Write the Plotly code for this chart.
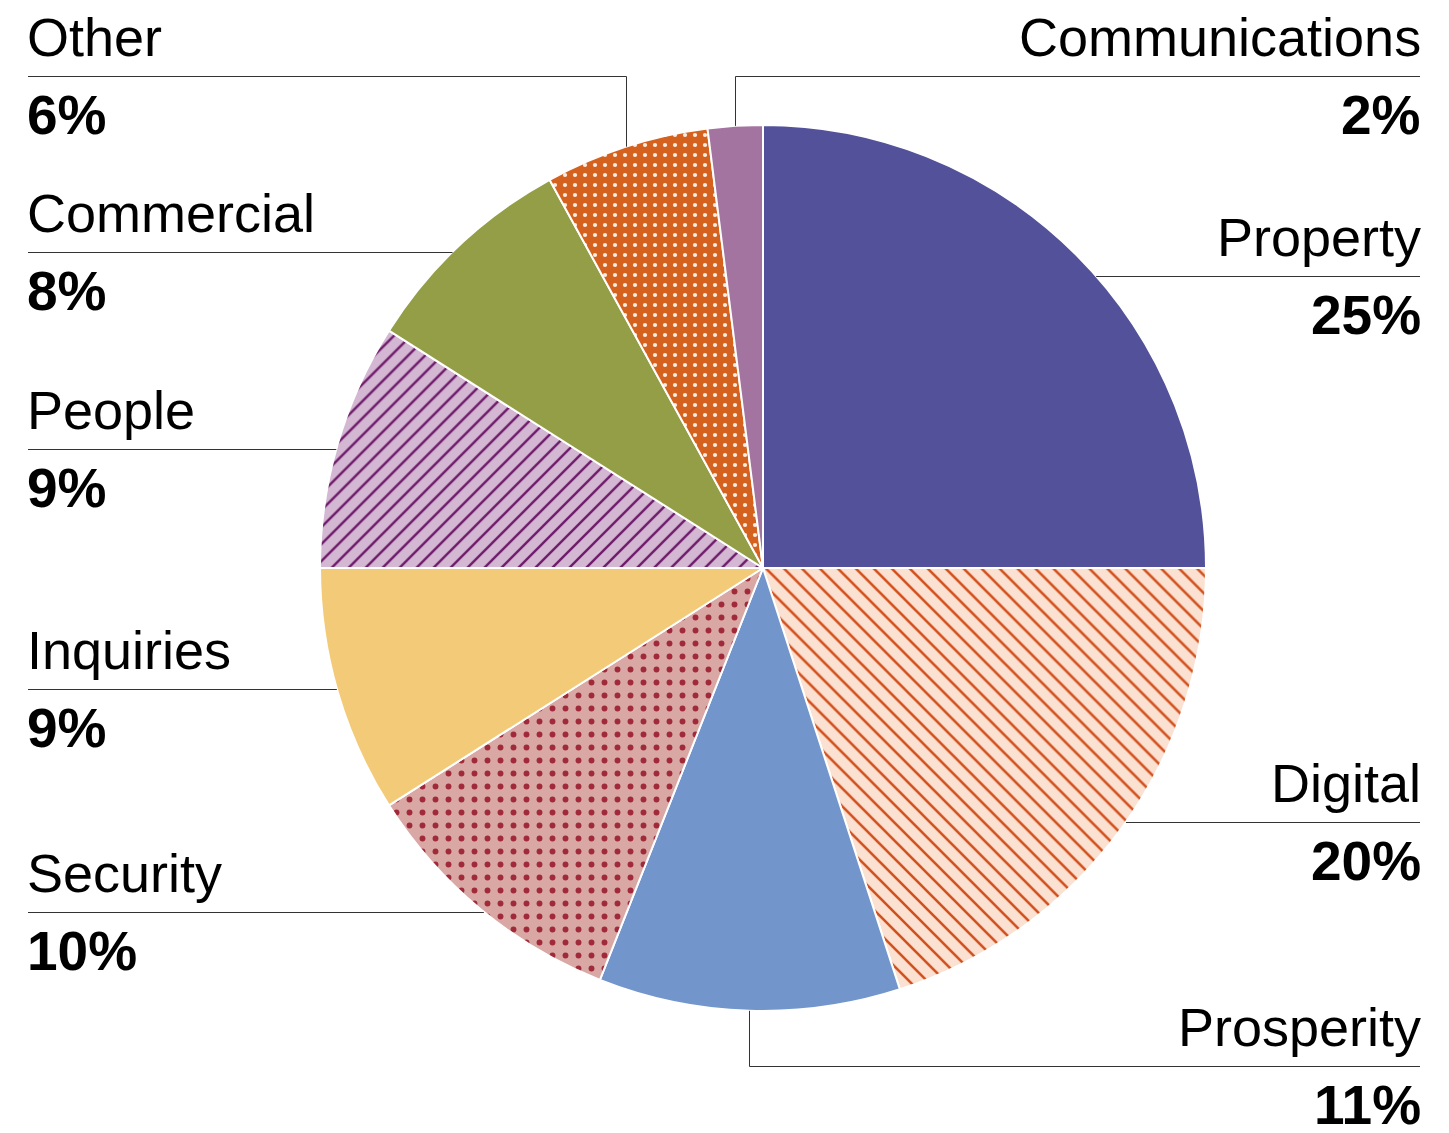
import math
import plotly.graph_objects as go

# ---------------- data ----------------
categories = ["Property", "Digital", "Prosperity", "Security", "Inquiries",
              "People", "Commercial", "Other", "Communications"]
shares = [25, 20, 11, 10, 9, 9, 8, 6, 2]
pct_labels = [f"{v}%" for v in shares]

# ---------------- styles ----------------
fill_colors = ["#52519A", "#FAE1D1", "#7295CC", "#D9A8A4", "#F3CB78",
               "#D3B7D3", "#949E47", "#D4621E", "#A474A0"]
pattern_shapes = ["", "\\", "", ".", "", "/", "", ".", ""]
pattern_fg = ["#52519A", "#D24E1A", "#7295CC", "#A02A3A", "#F3CB78",
              "#6E1B6A", "#949E47", "#FCEBE0", "#A474A0"]
pattern_size = [10, 12.7, 10, 13, 10, 12, 10, 10, 10]
pattern_solidity = [0.1, 0.2, 0.1, 0.16, 0.1, 0.2, 0.1, 0.14, 0.1]

W, H = 1449, 1133
CX, CY, R = 763, 568, 443          # pie centre / radius in pixels
LEFT_X, RIGHT_X = 28, 1420         # text block edges in pixels

# label placement (layout): side, y of the rule under the name, connector type
label_layout = {
    "Property":       ("right", 276, "flat"),
    "Digital":        ("right", 822, "flat"),
    "Prosperity":     ("right", 1066, "elbow"),
    "Security":       ("left", 912, "flat"),
    "Inquiries":      ("left", 689, "flat"),
    "People":         ("left", 449, "flat"),
    "Commercial":     ("left", 252, "flat"),
    "Other":          ("left", 76, "elbow"),
    "Communications": ("right", 76, "elbow"),
}

NAME_FONT = dict(family="Liberation Sans, Arial, sans-serif", size=54, color="#000000")
PCT_FONT = dict(family="Liberation Sans, Arial, sans-serif", size=55, color="#000000")
RULE = dict(color="#333333", width=1)


def px(x):
    return x / W


def py(y):
    return 1 - y / H


fig = go.Figure(go.Pie(
    labels=categories,
    values=shares,
    sort=False,
    direction="clockwise",
    rotation=0,
    textinfo="none",
    hoverinfo="label+percent",
    showlegend=False,
    marker=dict(
        colors=fill_colors,
        line=dict(color="white", width=2),
        pattern=dict(shape=pattern_shapes, fgcolor=pattern_fg, bgcolor=fill_colors,
                     size=pattern_size, solidity=pattern_solidity, fillmode="replace"),
    ),
    domain=dict(x=[px(CX - R), px(CX + R)], y=[py(CY + R), py(CY - R)]),
))

total = sum(shares)
cum = 0.0
shapes = []
annotations = []
for name, val, pct in zip(categories, shares, pct_labels):
    a0 = cum / total * 360
    cum += val
    a1 = cum / total * 360
    mid = math.radians((a0 + a1) / 2)
    side, ly, kind = label_layout[name]
    ry = ly + 0.5  # pixel-aligned rule

    if kind == "elbow":
        ex = round(CX + R * math.sin(mid)) + 0.5
        ey = CY - R * math.cos(mid)
        shapes.append(dict(type="line", xref="paper", yref="paper",
                           x0=px(ex), y0=py(ey), x1=px(ex), y1=py(ry), line=RULE))
        if side == "left":
            shapes.append(dict(type="line", xref="paper", yref="paper",
                               x0=px(LEFT_X), y0=py(ry), x1=px(ex), y1=py(ry), line=RULE))
        else:
            shapes.append(dict(type="line", xref="paper", yref="paper",
                               x0=px(ex), y0=py(ry), x1=px(RIGHT_X), y1=py(ry), line=RULE))
    else:
        dx = math.sqrt(max(R * R - (ly - CY) ** 2, 0))
        if side == "left":
            shapes.append(dict(type="line", xref="paper", yref="paper",
                               x0=px(LEFT_X), y0=py(ry), x1=px(CX - dx), y1=py(ry), line=RULE))
        else:
            shapes.append(dict(type="line", xref="paper", yref="paper",
                               x0=px(CX + dx), y0=py(ry), x1=px(RIGHT_X), y1=py(ry), line=RULE))

    if side == "left":
        ax, xanchor = px(LEFT_X - 3), "left"
    else:
        ax, xanchor = px(RIGHT_X + 3), "right"
    annotations.append(dict(text=name, x=ax, y=py(ly - 7), xref="paper", yref="paper",
                            xanchor=xanchor, yanchor="bottom", showarrow=False, font=NAME_FONT))
    annotations.append(dict(text=f"<b>{pct}</b>", x=ax, y=py(ly + 6), xref="paper", yref="paper",
                            xanchor=xanchor, yanchor="top", showarrow=False, font=PCT_FONT))

fig.update_layout(
    width=W, height=H,
    margin=dict(l=0, r=0, t=0, b=0),
    paper_bgcolor="white",
    plot_bgcolor="white",
    shapes=shapes,
    annotations=annotations,
)

fig.write_html("out.html", config={"displayModeBar": False},
               post_script="document.body.style.margin='0';")
